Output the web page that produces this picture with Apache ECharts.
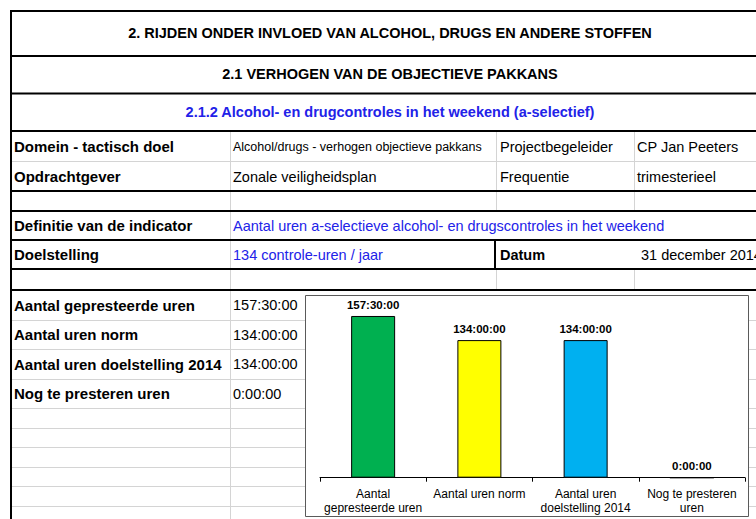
<!DOCTYPE html>
<html>
<head>
<meta charset="utf-8">
<script src="https://cdn.jsdelivr.net/npm/echarts@6/dist/echarts.min.js"></script>
<style>html,body{margin:0;padding:0;background:#fff;}#c{width:756px;height:519px;}</style>
</head>
<body>
<div id="c"></div>
<script>
// ---- chart data ----
const categories = ['Aantal\ngepresteerde uren', 'Aantal uren norm', 'Aantal uren\ndoelstelling 2014', 'Nog te presteren\nuren'];
const hours = [157.5, 134, 134, 0];
const barColors = ['#00b050', '#ffff00', '#00b0f0', '#00b0f0'];

// ---- table text ----
const titles = ['2. RIJDEN ONDER INVLOED VAN ALCOHOL, DRUGS EN ANDERE STOFFEN', '2.1 VERHOGEN VAN DE OBJECTIEVE PAKKANS', '2.1.2 Alcohol- en drugcontroles in het weekend (a-selectief)'];
const infoLabels = ['Domein - tactisch doel', 'Opdrachtgever', 'Definitie van de indicator', 'Doelstelling'];
const infoValues = ['Alcohol/drugs - verhogen objectieve pakkans', 'Zonale veiligheidsplan', 'Aantal uren a-selectieve alcohol- en drugscontroles in het weekend', '134 controle-uren / jaar'];
const infoLabels2 = ['Projectbegeleider', 'Frequentie', '', 'Datum'];
const infoValues2 = ['CP Jan Peeters', 'trimesterieel', '', '31 december 2014'];
const resultLabels = ['Aantal gepresteerde uren', 'Aantal uren norm', 'Aantal uren doelstelling 2014', 'Nog te presteren uren'];

function fmt(v) {
  const h = Math.floor(v);
  const m = Math.round((v - h) * 60);
  return h + ':' + String(m).padStart(2, '0') + ':00';
}

const FF = '"Liberation Sans", Arial, sans-serif';
const BLUE = '#2222e8';
const GRAY = '#d4d4d4';
const g = [];

function hline(y, x1, x2, color, w) {
  g.push({type: 'line', z: 1, silent: true, shape: {x1: x1, y1: y, x2: x2, y2: y}, style: {stroke: color, lineWidth: w}});
}
function vline(x, y1, y2, color, w) {
  g.push({type: 'line', z: 1, silent: true, shape: {x1: x, y1: y1, x2: x, y2: y2}, style: {stroke: color, lineWidth: w}});
}
function txt(s, x, y, font, color, align) {
  g.push({type: 'text', z: 3, silent: true, style: {text: s, x: x, y: y, font: font, fill: color, textAlign: align || 'left', textVerticalAlign: 'middle'}});
}

// gray grid lines (lower rows)
[320.5, 349.5, 379.5, 408.5, 428.5, 447.5, 467.5, 486.5, 506.5].forEach(function (y) { hline(y, 11, 756, GRAY, 1); });
hline(161.5, 11, 756, GRAY, 1);
// gray column dividers
vline(230.5, 131, 519, GRAY, 1);
vline(496.5, 131, 211, GRAY, 1);
vline(496.5, 269, 290, GRAY, 1);
vline(634.5, 131, 211, GRAY, 1);
vline(634.5, 269, 290, GRAY, 1);
// black lines
[11, 56, 93.5, 131, 191, 211, 240, 269, 290].forEach(function (y) { hline(y, 10, 756, '#000', 2); });
vline(11, 10, 519, '#000', 2);
vline(495, 240, 269, '#000', 2);

// titles
txt(titles[0], 390, 33, 'bold 14.5px ' + FF, '#000', 'center');
txt(titles[1], 390, 74, 'bold 14.5px ' + FF, '#000', 'center');
txt(titles[2], 390, 112, 'bold 14.5px ' + FF, BLUE, 'center');

// info rows
const infoY = [146.5, 176.5, 225.5, 254.5];
infoLabels.forEach(function (s, i) { txt(s, 14, infoY[i], 'bold 15px ' + FF, '#000'); });
infoValues.forEach(function (s, i) {
  const small = i === 0;
  txt(s, 233, infoY[i], (small ? '12.5px ' : '14.5px ') + FF, i >= 2 ? BLUE : '#000');
});
infoLabels2.forEach(function (s, i) { if (s) txt(s, 500, infoY[i], (i === 3 ? 'bold ' : '') + '14.5px ' + FF, '#000'); });
infoValues2.forEach(function (s, i) { if (s) txt(s, i === 3 ? 641 : 637, infoY[i], '14.5px ' + FF, '#000'); });

// result rows
const resY = [305, 334.5, 364, 393.5];
resultLabels.forEach(function (s, i) { txt(s, 14, resY[i], 'bold 15px ' + FF, '#000'); });
hours.forEach(function (v, i) { txt(fmt(v), 233, resY[i], '14.5px ' + FF, '#000'); });

// chart frame
g.push({type: 'rect', z: 2, silent: true, shape: {x: 305.5, y: 295.5, width: 443, height: 221}, style: {fill: '#fff', stroke: '#5a5a5a', lineWidth: 1}});

const chart = echarts.init(document.getElementById('c'), null, {renderer: 'svg'});
chart.setOption({
  animation: false,
  backgroundColor: '#fff',
  graphic: {elements: g},
  grid: {left: 320, right: 11, top: 298, bottom: 41.3, containLabel: false},
  xAxis: {
    type: 'category',
    data: categories,
    z: 10,
    axisLine: {lineStyle: {color: '#000', width: 1}},
    axisTick: {show: true, length: 4, lineStyle: {color: '#000'}},
    axisLabel: {interval: 0, fontSize: 12, color: '#000', fontFamily: FF, lineHeight: 14, margin: 9}
  },
  yAxis: {type: 'value', min: 0, max: 175, show: false, splitLine: {show: false}},
  series: [{
    type: 'bar',
    z: 10,
    barWidth: 44,
    data: hours.map(function (v, i) { return {value: v, itemStyle: {color: barColors[i]}}; }),
    itemStyle: {borderColor: '#000', borderWidth: 1},
    label: {
      show: true, position: 'top', distance: 5,
      fontWeight: 'bold', fontSize: 11.5, fontFamily: FF, color: '#000',
      formatter: function (p) { return fmt(p.value); }
    }
  }]
});
</script>
</body>
</html>
